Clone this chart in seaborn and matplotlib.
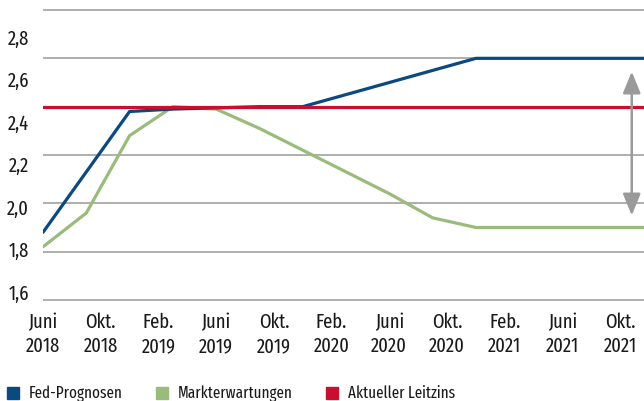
import matplotlib
matplotlib.use("Agg")
import matplotlib.pyplot as plt
import matplotlib.patches as mpatches
import seaborn as sns
import pandas as pd

# ---- data ----
months = [0, 3, 6, 9, 12, 15, 18, 21, 24, 27, 30, 33, 36, 39, 42]  # months since June 2018 (quarterly)
fed_prognosen = [1.88, 2.13, 2.38, 2.39, 2.395, 2.40, 2.40, 2.45, 2.50, 2.55, 2.60, 2.60, 2.60, 2.60, 2.60]
markterwartungen = [1.82, 1.96, 2.28, 2.40, 2.39, 2.31, 2.22, 2.13, 2.04, 1.94, 1.90, 1.90, 1.90, 1.90, 1.90]
leitzins = [2.40] * len(months)
series_names = ["Fed-Prognosen", "Markterwartungen", "Aktueller Leitzins"]
colors = ["#0b4a7f", "#9bbb7c", "#c8102e"]
xtick_pos = [0, 4, 8, 12, 16, 20, 24, 28, 32, 36, 40]
xtick_labels = ["Juni\n2018", "Okt.\n2018", "Feb.\n2019", "Juni\n2019", "Okt.\n2019", "Feb.\n2020",
                "Juni\n2020", "Okt.\n2020", "Feb.\n2021", "Juni\n2021", "Okt.\n2021"]
ytick_vals = [1.6, 1.8, 2.0, 2.2, 2.4, 2.6, 2.8]
ytick_labels = ["1,6", "1,8", "2,0", "2,2", "2,4", "2,6", "2,8"]
arrow_month = 40.8
arrow_range = (1.95, 2.545)

df = pd.DataFrame({
    "Monat": months * 3,
    "Wert": fed_prognosen + markterwartungen + leitzins,
    "Serie": [series_names[0]] * len(months) + [series_names[1]] * len(months) + [series_names[2]] * len(months),
})

sns.set_theme(style="white")
plt.rcParams["font.family"] = ["Fira Sans Extra Condensed", "DejaVu Sans"]
FS = 14.5
TXT = "#1a1a1a"

W, H = 644, 401
fig = plt.figure(figsize=(W / 100, H / 100), dpi=100)
left_px, right_px, top_px, bot_px = 43, 644, 0, 310
rect = [left_px / W, 1 - bot_px / H, (right_px - left_px) / W, (bot_px - top_px) / H]

# label axis (y tick labels positioned as in the reference)
ax2 = fig.add_axes(rect, frameon=False)
lpx = (292 - 35) / 1.2
ax2.set_ylim(1.6 - (bot_px - 292) / lpx, 2.8 + (37 - top_px) / lpx)
ax2.set_yticks(ytick_vals)
ax2.set_yticklabels(ytick_labels, fontsize=FS, color=TXT)
ax2.tick_params(axis="y", length=0, pad=10, left=False)
ax2.set_xticks([])

ax = fig.add_axes(rect)
ax.patch.set_alpha(0)
pal = dict(zip(series_names, colors))
for name, z in [(series_names[1], 3), (series_names[0], 4), (series_names[2], 5)]:
    sns.lineplot(data=df[df["Serie"] == name], x="Monat", y="Wert", color=pal[name],
                 lw=2.3, ax=ax, zorder=z, legend=False)

pxu = 241.5  # pixels per unit
ax.set_xlim(0, (right_px - left_px) / 14.43)
ax.set_ylim(1.6 - (bot_px - 300) / pxu, 2.8 + (10 - top_px) / pxu)
ax.set_yticks(ytick_vals)
ax.yaxis.grid(True, color="#a8a8a8", lw=1.3)
ax.set_axisbelow(True)
ax.tick_params(axis="y", left=False, labelleft=False, length=0)
ax.set_xticks(xtick_pos)
ax.set_xticklabels(xtick_labels, fontsize=FS, color=TXT, linespacing=1.25)
ax.tick_params(axis="x", length=0, pad=2)
ax.set_xlabel("")
ax.set_ylabel("")
for s in ax.spines.values():
    s.set_visible(False)

# double arrow
ax.annotate("", xy=(arrow_month, arrow_range[1]), xytext=(arrow_month, arrow_range[0]),
            arrowprops=dict(arrowstyle="<|-|>,head_length=1.1,head_width=0.45", color="#9a9a9a", lw=1.8,
                            shrinkA=0, shrinkB=0), zorder=6)

# legend
handles = [mpatches.Patch(color=c, label=n) for n, c in zip(series_names, colors)]
fig.legend(handles=handles, loc="center left", bbox_to_anchor=(7 / W, 1 - 394 / H), ncol=3, frameon=False,
           fontsize=11.8, handlelength=0.75, handleheight=0.75, handletextpad=0.6, columnspacing=2.0,
           borderaxespad=0, borderpad=0.0, labelcolor=TXT)

fig.savefig("out.png", dpi=100)
